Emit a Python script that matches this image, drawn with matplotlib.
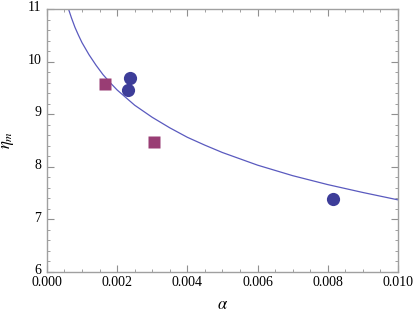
import matplotlib
matplotlib.use('Agg')
import matplotlib.pyplot as plt
import matplotlib.transforms as mtransforms
from matplotlib.ticker import MultipleLocator, FormatStrFormatter

# fitted curve
curve_alpha = [0.0006, 0.0007, 0.0008, 0.0009, 0.0010, 0.0012, 0.0014, 0.0016,
               0.0018, 0.0020, 0.0025, 0.0030, 0.0035, 0.0040, 0.0045, 0.0050,
               0.0060, 0.0070, 0.0080, 0.0090, 0.0100]
curve_eta = [11.03, 10.83, 10.65, 10.50, 10.36, 10.13, 9.93, 9.75,
             9.60, 9.46, 9.17, 8.94, 8.74, 8.56, 8.41, 8.27,
             8.03, 7.83, 7.66, 7.51, 7.37]

# data points
circ_alpha = [0.00231, 0.00236, 0.00815]
circ_eta = [9.45, 9.68, 7.38]
sq_alpha = [0.00165, 0.00305]
sq_eta = [9.58, 8.47]

plt.rcParams['font.family'] = ['Liberation Serif', 'DejaVu Serif']
plt.rcParams['mathtext.fontset'] = 'stix'

fig = plt.figure(figsize=(4.15, 3.21), dpi=100)
ax = fig.add_axes([0.113, 0.153, 0.846, 0.819])

ax.plot(curve_alpha, curve_eta, color='#5a5abf', lw=0.9, zorder=2)
ax.plot(circ_alpha, circ_eta, 'o', color='#3d3d99', ms=9.5, mec='none', zorder=3)
ax.plot(sq_alpha, sq_eta, 's', color='#993d74', ms=8, mec='none', zorder=3)

ax.set_xlim(0, 0.010); ax.set_ylim(6, 11)
ax.xaxis.set_major_locator(MultipleLocator(0.002))
ax.xaxis.set_minor_locator(MultipleLocator(0.0005))
ax.xaxis.set_major_formatter(FormatStrFormatter('%.3f'))
ax.yaxis.set_major_locator(MultipleLocator(1))
ax.yaxis.set_minor_locator(MultipleLocator(0.2))

for s in ax.spines.values():
    s.set_color('#a0a0a0'); s.set_linewidth(1.0)
ax.tick_params(which='both', direction='in', top=True, right=True,
               color='#909090', labelsize=10)
ax.tick_params(which='major', length=5, width=0.8)
ax.tick_params(which='minor', length=2.5, width=0.6)
ax.tick_params(axis='x', which='major', pad=3)
ax.tick_params(axis='y', which='major', pad=4)

# lift the y tick labels slightly so "6" clears "0.000"
fig.canvas.draw()
lift = mtransforms.ScaledTranslation(0, 2 / 72, fig.dpi_scale_trans)
for t in ax.get_yticklabels():
    t.set_transform(t.get_transform() + lift)

ax.set_xlabel(r'$\alpha$', fontsize=12, labelpad=6)
ax.set_ylabel(r'$\eta_m$', fontsize=12, labelpad=8)

fig.savefig('out.png', dpi=100)
